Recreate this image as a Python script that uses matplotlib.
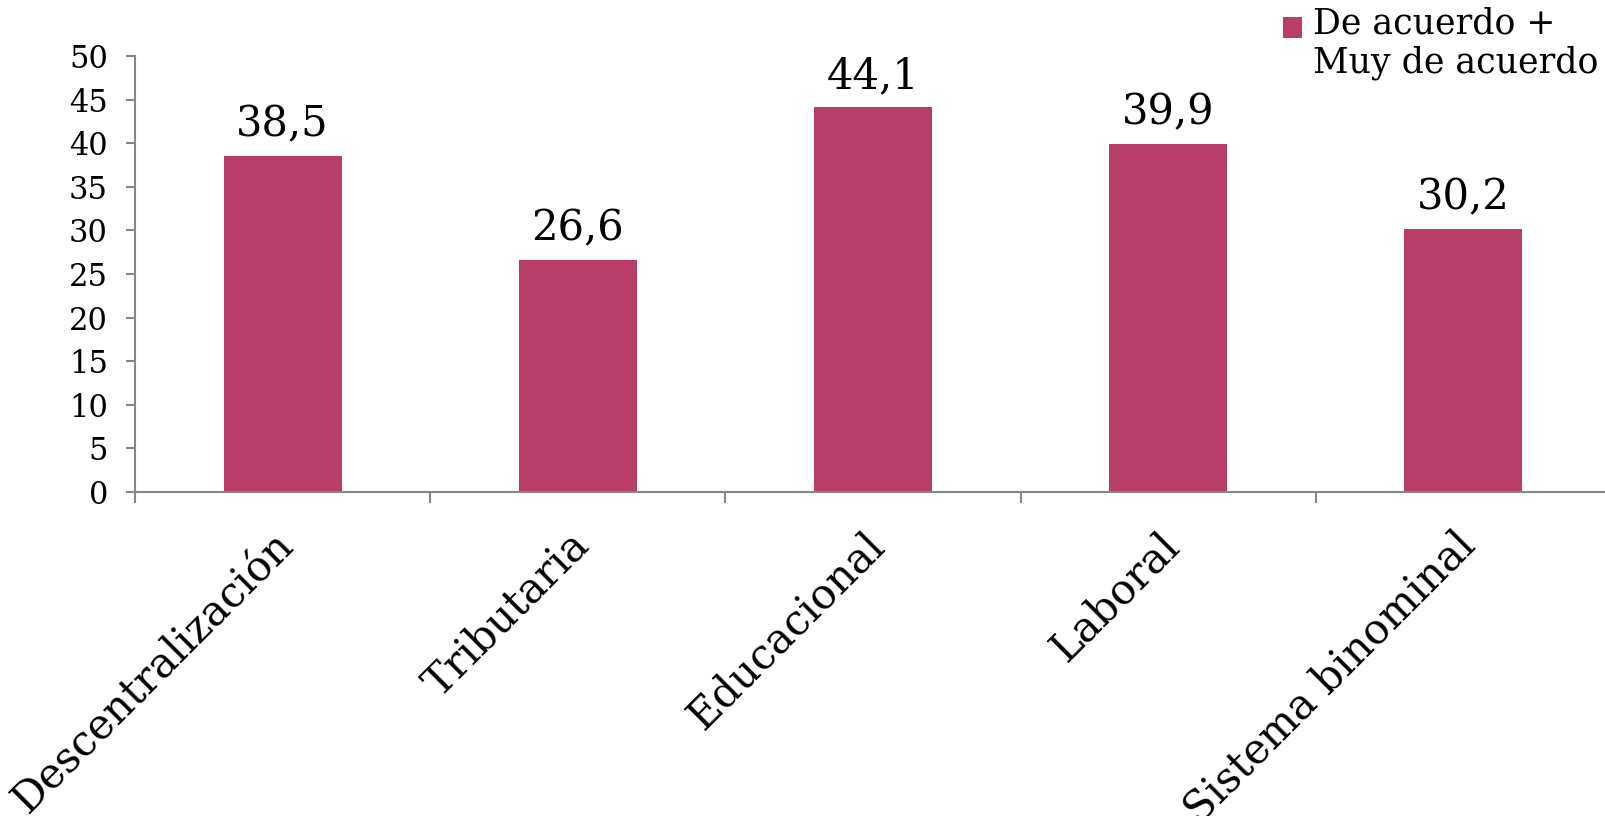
import matplotlib
matplotlib.use("Agg")
import matplotlib.pyplot as plt
import matplotlib.transforms as mtransforms
from matplotlib.legend_handler import HandlerPatch
from matplotlib.patches import Rectangle
import numpy as np

categories = ["Descentralización", "Tributaria", "Educacional", "Laboral", "Sistema binominal"]
values = [38.5, 26.6, 44.1, 39.9, 30.2]
value_labels = ["38,5", "26,6", "44,1", "39,9", "30,2"]
series_name = "De acuerdo +\nMuy de acuerdo"
yticks = [0, 5, 10, 15, 20, 25, 30, 35, 40, 45, 50]

plt.rcParams['font.family'] = ['DejaVu Serif']
bar_color = "#B83D68"
axis_color = "#868686"

fig = plt.figure(figsize=(16.06, 8.16), dpi=100)
ax = fig.add_axes([135/1606, 1 - 492/816, (1611 - 135)/1606, (492 - 56)/816])

x = np.arange(len(categories))
bars = ax.bar(x, values, width=0.40, color=bar_color, label=series_name, zorder=2)

for xi, v, lab in zip(x, values, value_labels):
    ax.annotate(lab, (xi, v), xytext=(0, 14), textcoords="offset points",
                ha="center", va="baseline", fontsize=30, color="black")

ax.set_xlim(-0.5, len(categories) - 0.5)
ax.set_ylim(0, 50)
ax.set_yticks(yticks)
ax.set_yticklabels([str(t) for t in yticks], fontsize=22)
ax.tick_params(axis="y", length=6.5, width=1.5, color=axis_color, pad=13)

ax.set_xticks(np.arange(len(categories) + 1) - 0.5)
ax.set_xticklabels([])
ax.tick_params(axis="x", which="major", length=8, width=1.5, color=axis_color)
ax.set_xticks(x, minor=True)
ax.set_xticklabels(categories, minor=True, rotation=45, ha="right",
                   rotation_mode="anchor", fontsize=30)
ax.tick_params(axis="x", which="minor", length=0, pad=26)
shift = mtransforms.ScaledTranslation(-10/100, 4/100, fig.dpi_scale_trans)
for lbl in ax.get_xticklabels(minor=True):
    lbl.set_transform(lbl.get_transform() + shift)

for side in ["top", "right"]:
    ax.spines[side].set_visible(False)
for side in ["left", "bottom"]:
    ax.spines[side].set_color(axis_color)
    ax.spines[side].set_linewidth(1.5)
    ax.spines[side].set_clip_on(False)


def raised_square(legend, orig_handle, xdescent, ydescent, width, height, fontsize):
    return Rectangle((-xdescent, -ydescent + 12), width, height)


leg = fig.legend(handles=[bars.patches[0]], labels=[series_name],
                 loc="upper left", bbox_to_anchor=(1283/1606, 1 - 6/816),
                 frameon=False, fontsize=25, handlelength=0.55, handleheight=0.55,
                 handletextpad=0.3, borderpad=0, borderaxespad=0,
                 handler_map={Rectangle: HandlerPatch(patch_func=raised_square)})

fig.savefig("out.png", dpi=100)
